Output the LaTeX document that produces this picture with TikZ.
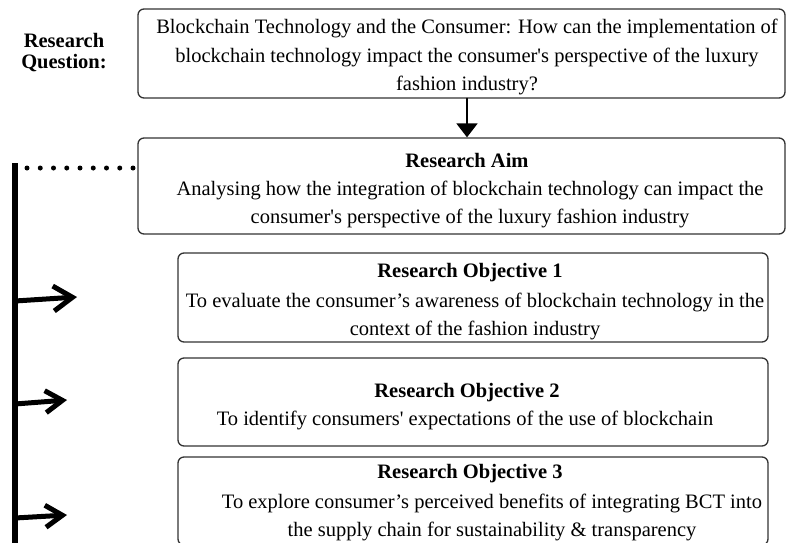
\documentclass[tikz,border=0pt]{standalone}
\usepackage{fontspec}
\setmainfont{Liberation Serif}
\usetikzlibrary{arrows.meta,positioning}

\begin{document}
\begin{tikzpicture}[x=1pt,y=-1pt,line cap=round,line join=round,
  box/.style={draw=black!80,line width=1.3pt,rounded corners=6pt,inner sep=0pt},
  txt/.style={align=center,inner sep=0pt,font=\fontsize{20.5}{28.5}\selectfont},
  head/.style={txt,font=\fontsize{20.5}{28.5}\selectfont\bfseries},
  jump/.style={line width=5pt,-{Straight Barb[length=19pt,width=25pt]}}]
  \clip (0,0) rectangle (787,542);
  % boxes
  \node[box,minimum width=647pt,minimum height=89pt] (rq) at (461.5,53.5) {};
  \node[box,minimum width=647pt,minimum height=96pt] (aim) at (461.5,186) {};
  \node[box,minimum width=590pt,minimum height=89pt] (obj1) at (473,297.5) {};
  \node[box,minimum width=590pt,minimum height=88pt] (obj2) at (473,402) {};
  \node[box,minimum width=590pt,minimum height=88pt] (obj3) at (473,501) {};
  % texts
  \node[head,font=\fontsize{20.5}{21}\selectfont\bfseries] (qlabel) at (64,52.5) {Research\\Question:};
  \node[txt] (rqtext) at (467,57.3) {Blockchain Technology and the Consumer: How can the implementation of\\
    blockchain technology impact the consumer\textquotesingle s perspective of the luxury\\fashion industry?};
  \node[head] (aimhead) at (467,160) {Research Aim};
  \node[txt] (aimbody) at (470,204.5) {Analysing how the integration of blockchain technology can impact the\\
    consumer\textquotesingle s perspective of the luxury fashion industry};
  \node[head] (obj1head) at (470,272.3) {Research Objective 1};
  \node[txt] (obj1body) at (475,316.5) {To evaluate the consumer’s awareness of blockchain technology in the\\
    context of the fashion industry};
  \node[head] (obj2head) at (467,392.3) {Research Objective 2};
  \node[txt] (obj2body) at (465,420.3) {To identify consumers\textquotesingle\ expectations of the use of blockchain};
  \node[head] (obj3head) at (470,473.3) {Research Objective 3};
  \node[txt] (obj3body) at (492,517.5) {To explore consumer’s perceived benefits of integrating BCT into\\
    the supply chain for sustainability \& transparency};
  % connectors
  \draw[line width=2pt,-{Triangle[length=14pt,width=21pt]}] (rq.south -| rqtext) -- (aim.north -| rqtext);
  \coordinate (spinetop) at (15,163);
  \coordinate (spinebot) at (15,560);
  \draw[line width=6pt,line cap=butt] (spinetop) -- (spinebot);
  \coordinate (dotstart) at (27,168);
  \draw[line width=5pt,dash pattern=on 0pt off 13.25pt] (dotstart) -- (aim.west |- dotstart);
  \coordinate (a1) at (15,301);
  \coordinate (b1) at (77,297);
  \coordinate (a2) at (15,404);
  \coordinate (b2) at (67,400);
  \coordinate (a3) at (15,518);
  \coordinate (b3) at (67,515);
  \draw[jump] (a1) -- (b1);
  \draw[jump,-{Straight Barb[length=17pt,width=22pt]}] (a2) -- (b2);
  \draw[jump,-{Straight Barb[length=17pt,width=22pt]}] (a3) -- (b3);
\end{tikzpicture}
\end{document}
